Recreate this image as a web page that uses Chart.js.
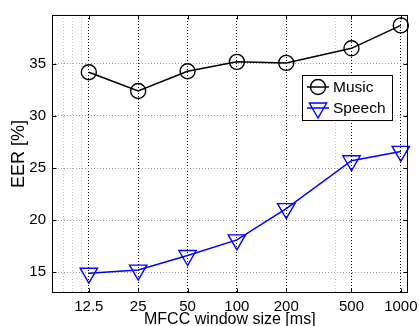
<!DOCTYPE html>
<html>
<head>
<meta charset="utf-8">
<script src="https://cdn.jsdelivr.net/npm/chart.js@4/dist/chart.umd.min.js"></script>
<style>
html,body{margin:0;padding:0;background:#fff;}
#wrap{width:419px;height:326px;position:relative;}
</style>
</head>
<body>
<div id="wrap"><canvas id="c" width="419" height="326"></canvas></div>
<script>
// ---- data ----
const windowSizes = [12.5, 25, 50, 100, 200, 500, 1000];
const musicEER    = [34.2, 32.4, 34.3, 35.2, 35.1, 36.5, 38.7];
const speechEER   = [14.9, 15.2, 16.6, 18.1, 21.1, 25.7, 26.6];
const yTickValues = [15, 20, 25, 30, 35];
const xMinorGrid  = [8.7, 10, 11.2, 400];
const seriesNames = ['Music', 'Speech'];

const FONT = '"Liberation Sans", Arial, Helvetica, sans-serif';

const pts = (ys) => windowSizes.map((x, i) => ({x: x, y: ys[i]}));

const boxPlugin = {
  id: 'boxPlugin',
  afterDatasetsDraw(chart) {
    const {ctx, chartArea: a, scales} = chart;
    ctx.save();
    ctx.strokeStyle = '#000';
    ctx.lineWidth = 1;
    const L = Math.round(a.left) + 0.5, R = Math.round(a.right) - 0.5;
    const T = Math.round(a.top) + 0.5, B = Math.round(a.bottom) - 0.5;
    ctx.strokeRect(L, T, R - L, B - T);
    // inward ticks
    const tl = 4;
    ctx.beginPath();
    windowSizes.forEach(v => {
      const x = Math.round(scales.x.getPixelForValue(v)) + 0.5;
      ctx.moveTo(x, B); ctx.lineTo(x, B - tl);
      ctx.moveTo(x, T); ctx.lineTo(x, T + tl);
    });
    yTickValues.forEach(v => {
      const y = Math.round(scales.y.getPixelForValue(v)) + 0.5;
      ctx.moveTo(L, y); ctx.lineTo(L + tl, y);
      ctx.moveTo(R, y); ctx.lineTo(R - tl, y);
    });
    ctx.stroke();
    ctx.restore();
  },
  afterDraw(chart) {
    const {ctx} = chart;
    ctx.save();
    const bx = 302.5, by = 75.5, bw = 90, bh = 45;
    ctx.fillStyle = '#fff';
    ctx.fillRect(bx, by, bw, bh);
    ctx.strokeStyle = '#000';
    ctx.lineWidth = 1;
    ctx.strokeRect(bx, by, bw, bh);
    const rows = [87, 108];
    chart.data.datasets.forEach((ds, i) => {
      const y = rows[i];
      ctx.strokeStyle = ds.borderColor;
      ctx.lineWidth = ds.borderWidth;
      ctx.beginPath();
      ctx.moveTo(307, y); ctx.lineTo(329, y);
      ctx.stroke();
      ctx.lineWidth = ds.pointBorderWidth;
      ctx.strokeStyle = ds.pointBorderColor;
      ctx.fillStyle = 'rgba(0,0,0,0)';
      Chart.helpers.drawPoint(ctx, {
        pointStyle: ds.pointStyle, radius: ds.pointRadius,
        rotation: ds.pointRotation || 0, borderWidth: ds.pointBorderWidth
      }, 318, y);
      ctx.fillStyle = '#000';
      ctx.font = '15.5px ' + FONT;
      ctx.textBaseline = 'middle';
      ctx.textAlign = 'left';
      ctx.fillText(ds.label, 333, y + 1);
    });
    ctx.restore();
  }
};

new Chart(document.getElementById('c'), {
  type: 'line',
  data: {
    datasets: [
      {
        label: seriesNames[0], data: pts(musicEER),
        borderColor: '#000', backgroundColor: 'rgba(0,0,0,0)',
        borderWidth: 1.5, pointStyle: 'circle', pointRadius: 7.5,
        pointBorderWidth: 1.4, pointBackgroundColor: 'rgba(0,0,0,0)',
        pointBorderColor: '#000', tension: 0, clip: false
      },
      {
        label: seriesNames[1], data: pts(speechEER),
        borderColor: '#0000ff', backgroundColor: 'rgba(0,0,0,0)',
        borderWidth: 1.5, pointStyle: 'triangle', pointRotation: 180, pointRadius: 10,
        pointBorderWidth: 1.4, pointBackgroundColor: 'rgba(0,0,0,0)',
        pointBorderColor: '#0000ff', tension: 0, clip: false
      }
    ]
  },
  options: {
    responsive: false,
    animation: false,
    events: [],
    layout: {padding: {top: 12.5, right: 10.5, left: 0, bottom: 0}},
    plugins: {legend: {display: false}, tooltip: {enabled: false}},
    scales: {
      x: {
        type: 'logarithmic', min: 7.45, max: 1100,
        afterBuildTicks(scale) {
          scale.ticks = windowSizes.map(v => ({value: v})).concat(xMinorGrid.map(v => ({value: v})));
        },
        afterFit(scale) { scale.height = 33; },
        ticks: {
          autoSkip: false, maxRotation: 0, minRotation: 0, padding: 5,
          color: '#000', font: {family: FONT, size: 15},
          callback: (v) => windowSizes.includes(v) ? String(v) : ''
        },
        grid: {
          drawTicks: false, lineWidth: 1,
          color: (c) => (c.tick && windowSizes.includes(c.tick.value)) ? '#000' : '#c4c4c4'
        },
        border: {display: false, dash: [1, 2]},
        title: {
          display: true, text: 'MFCC window size [ms]', color: '#000',
          font: {family: FONT, size: 16, lineHeight: 1.2}, padding: {top: 0, bottom: -3.5}
        }
      },
      y: {
        type: 'linear', min: 13, max: 39.7,
        afterBuildTicks(scale) { scale.ticks = yTickValues.map(v => ({value: v})); },
        afterFit(scale) { scale.width = 52; },
        ticks: {padding: 6, color: '#000', font: {family: FONT, size: 15}},
        grid: {drawTicks: false, lineWidth: 1, color: '#9a9a9a'},
        border: {display: false, dash: [1, 2]},
        title: {
          display: true, text: 'EER [%]', color: '#000',
          font: {family: FONT, size: 18, lineHeight: 1.2}, padding: {top: 8, bottom: 0}
        }
      }
    }
  },
  plugins: [boxPlugin]
});
</script>
</body>
</html>
